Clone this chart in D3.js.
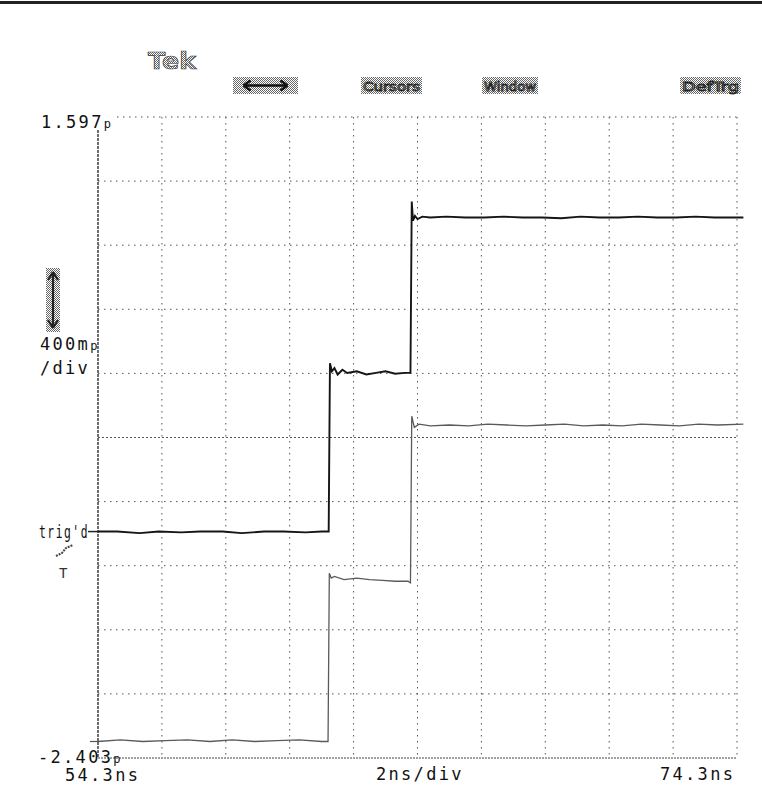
<!DOCTYPE html>
<html>
<head>
<meta charset="utf-8">
<script src="https://cdn.jsdelivr.net/npm/d3@7"></script>
<style>
  html, body { margin: 0; padding: 0; background: #fff; }
  svg { display: block; }
  .lbl { font-family: "DejaVu Sans Mono", monospace; font-size: 17px; fill: #111; letter-spacing: 2.3px; }
</style>
</head>
<body>
<svg id="scope"></svg>
<script>
// time / volt graticule (2 ns/div, 400 mV/div)
const timeTicks = [54.3, 56.3, 58.3, 60.3, 62.3, 64.3, 66.3, 68.3, 70.3, 72.3, 74.3];
const voltTicks = [1.597, 1.197, 0.797, 0.397, -0.003, -0.403, -0.803, -1.203, -1.603, -2.003, -2.403];
const menuLabels = ["\u2194", "Cursors", "Window", "DefTrg"];

// channel 1 (dark trace)
const ch1Time = [54.3, 54.9, 55.6, 56.2, 56.9, 57.5, 58.2, 58.8, 59.5, 60.1,
  60.8, 61.3, 61.52, 61.56, 61.62, 61.7, 61.8, 61.95, 62.1, 62.4,
  62.7, 63.0, 63.3, 63.6, 63.9, 64.08, 64.12, 64.16, 64.22, 64.3,
  64.45, 64.7, 65.2, 65.8, 66.4, 67.0, 67.6, 68.2, 68.8, 69.4,
  70.0, 70.6, 71.2, 71.8, 72.4, 73.0, 73.6, 74.2, 74.5];
const ch1Volt = [-0.99, -0.99, -1.0, -0.99, -0.995, -0.99, -0.99, -1.0, -0.99, -0.99,
  -0.995, -0.99, -0.99, 0.06, 0.01, 0.03, -0.01, 0.02, 0.0, 0.01,
  -0.01, 0.0, 0.01, -0.005, 0.0, 0.0, 1.07, 0.95, 0.98, 0.96,
  0.975, 0.97, 0.975, 0.97, 0.97, 0.975, 0.97, 0.97, 0.965, 0.975,
  0.97, 0.97, 0.975, 0.97, 0.97, 0.975, 0.97, 0.97, 0.97];

// channel 2 (light trace)
const ch2Time = [54.3, 55.0, 55.7, 56.4, 57.1, 57.8, 58.5, 59.2, 59.9, 60.6,
  61.3, 61.5, 61.54, 61.6, 61.7, 62.0, 62.4, 62.8, 63.2, 63.6,
  64.0, 64.08, 64.12, 64.2, 64.35, 64.7, 65.3, 65.9, 66.5, 67.1,
  67.7, 68.3, 68.9, 69.5, 70.1, 70.7, 71.3, 71.9, 72.5, 73.1,
  73.7, 74.5];
const ch2Volt = [-2.30, -2.29, -2.30, -2.295, -2.29, -2.30, -2.29, -2.30, -2.295, -2.29,
  -2.30, -2.30, -1.25, -1.28, -1.27, -1.29, -1.28, -1.29, -1.295, -1.30,
  -1.30, -1.31, -0.27, -0.34, -0.32, -0.33, -0.325, -0.33, -0.32, -0.325,
  -0.33, -0.325, -0.32, -0.33, -0.325, -0.33, -0.32, -0.325, -0.33, -0.32,
  -0.325, -0.32];

const width = 762, height = 791;
const svg = d3.select("#scope").attr("width", width).attr("height", height);

const x = d3.scaleLinear().domain([54.3, 74.3]).range([98, 737]);
const y = d3.scaleLinear().domain([-2.403, 1.597]).range([758, 117]);

// stipple pattern for the menu boxes
const defs = svg.append("defs");
const pat = defs.append("pattern").attr("id", "stip")
    .attr("patternUnits", "userSpaceOnUse").attr("width", 2).attr("height", 2);
pat.append("rect").attr("width", 2).attr("height", 2).attr("fill", "#fff");
pat.append("rect").attr("width", 1).attr("height", 1).attr("fill", "#666");
pat.append("rect").attr("x", 1).attr("y", 1).attr("width", 1).attr("height", 1).attr("fill", "#666");

// scanner border at the top
svg.append("rect").attr("x", 0).attr("y", 1).attr("width", width).attr("height", 3).attr("fill", "#222");

// header
svg.append("text").attr("x", 148).attr("y", 69)
    .attr("font-family", "DejaVu Sans").attr("font-weight", "bold").attr("font-size", 23)
    .attr("textLength", 48).attr("lengthAdjust", "spacingAndGlyphs")
    .attr("fill", "url(#stip)").attr("stroke", "#333").attr("stroke-width", 0.7)
    .text("Tek");

const boxes = [[233, 298], [361, 422], [482, 538], [680, 741]];
const menu = svg.append("g").attr("class", "menu");
boxes.forEach((b, i) => {
    menu.append("rect").attr("x", b[0]).attr("y", 77).attr("width", b[1] - b[0]).attr("height", 17)
        .attr("fill", "url(#stip)");
    if (i === 0) {
        const cx = (b[0] + b[1]) / 2;
        menu.append("path")
            .attr("d", `M${cx - 22},85.5 L${cx + 22},85.5 M${cx - 22},85.5 l7,-5 M${cx - 22},85.5 l7,5 M${cx + 22},85.5 l-7,-5 M${cx + 22},85.5 l-7,5`)
            .attr("stroke", "#111").attr("stroke-width", 2.5).attr("fill", "none");
    } else {
        menu.append("text").attr("x", (b[0] + b[1]) / 2).attr("y", 90.5)
            .attr("text-anchor", "middle")
            .attr("font-family", "DejaVu Sans Condensed, DejaVu Sans").attr("font-size", 12.5)
            .attr("textLength", b[1] - b[0] - 4).attr("lengthAdjust", "spacingAndGlyphs")
            .attr("fill", "#fff").attr("stroke", "#222").attr("stroke-width", 0.8)
            .text(menuLabels[i]);
    }
});

// graticule
const grid = svg.append("g").attr("class", "grid");
grid.selectAll("line.h").data(voltTicks).enter().append("line")
    .attr("class", "h")
    .attr("x1", (d, i) => i === 0 ? 117 : 98).attr("x2", 737)
    .attr("y1", d => y(d)).attr("y2", d => y(d))
    .attr("stroke", (d, i) => i === 10 ? "#444" : "#555")
    .attr("stroke-width", 1)
    .attr("stroke-dasharray", (d, i) => i === 10 ? "2,1" : (i === 5 ? "2,2" : "1.5,4.5"));
grid.selectAll("line.v").data(timeTicks).enter().append("line")
    .attr("class", "v")
    .attr("x1", d => x(d)).attr("x2", d => x(d))
    .attr("y1", (d, i) => i === 0 ? 130 : 117).attr("y2", 758)
    .attr("stroke", (d, i) => i === 0 ? "#222" : "#555")
    .attr("stroke-width", (d, i) => i === 0 ? 1.3 : 1)
    .attr("stroke-dasharray", (d, i) => i === 0 ? "3,1" : "1.5,4.5");

// traces
const line = d3.line().x(d => x(d[0])).y(d => y(d[1]));
svg.append("path").datum(d3.zip(ch2Time, ch2Volt))
    .attr("d", line).attr("fill", "none")
    .attr("stroke", "#5a5a5a").attr("stroke-width", 1.3);
svg.append("path").datum(d3.zip(ch1Time, ch1Volt))
    .attr("d", line).attr("fill", "none")
    .attr("stroke", "#151515").attr("stroke-width", 1.9);

// ground / trigger markers on the left
svg.append("line").attr("x1", 88).attr("x2", 98).attr("y1", y(ch1Volt[0])).attr("y2", y(ch1Volt[0]))
    .attr("stroke", "#222").attr("stroke-width", 1.5);
svg.append("line").attr("x1", 90).attr("x2", 98).attr("y1", y(ch2Volt[0])).attr("y2", y(ch2Volt[0]))
    .attr("stroke", "#555").attr("stroke-width", 1.2);

// left side readouts
const lbl = svg.append("g");
const topLbl = lbl.append("text").attr("class", "lbl").attr("x", 41).attr("y", 128);
topLbl.append("tspan").text("1.597");
topLbl.append("tspan").attr("font-size", 12).text("p");

// vertical position icon
svg.append("rect").attr("x", 46).attr("y", 268).attr("width", 14).attr("height", 64).attr("fill", "url(#stip)");
svg.append("path")
    .attr("d", "M53,272 L53,328 M53,272 l-5,8 M53,272 l5,8 M53,328 l-5,-8 M53,328 l5,-8")
    .attr("stroke", "#222").attr("stroke-width", 2.2).attr("fill", "none");

const vdLbl = lbl.append("text").attr("class", "lbl").attr("x", 40).attr("y", 350);
vdLbl.append("tspan").text("400m");
vdLbl.append("tspan").attr("font-size", 12).text("p");
lbl.append("text").attr("class", "lbl").attr("x", 40).attr("y", 374).text("/div");

lbl.append("text").attr("class", "lbl").attr("x", 39).attr("y", 538)
    .attr("textLength", 50).attr("lengthAdjust", "spacingAndGlyphs")
    .text("trig'd");
svg.append("path").attr("d", "M56,556 L62,553 L66,548 L73,545")
    .attr("stroke", "#444").attr("stroke-width", 2).attr("stroke-dasharray", "2,1").attr("fill", "none");
lbl.append("text").attr("x", 59).attr("y", 578)
    .attr("font-family", "DejaVu Sans Mono").attr("font-size", 14).attr("fill", "#333").text("T");

const botLbl = lbl.append("text").attr("class", "lbl").attr("x", 38).attr("y", 763);
botLbl.append("tspan").text("-2.403");
botLbl.append("tspan").attr("font-size", 12).text("p");

// horizontal readouts
lbl.append("text").attr("class", "lbl").attr("x", 65).attr("y", 781).text("54.3ns");
lbl.append("text").attr("class", "lbl").attr("x", 376).attr("y", 780).text("2ns/div");
lbl.append("text").attr("class", "lbl").attr("x", 660).attr("y", 780).text("74.3ns");
</script>
</body>
</html>
